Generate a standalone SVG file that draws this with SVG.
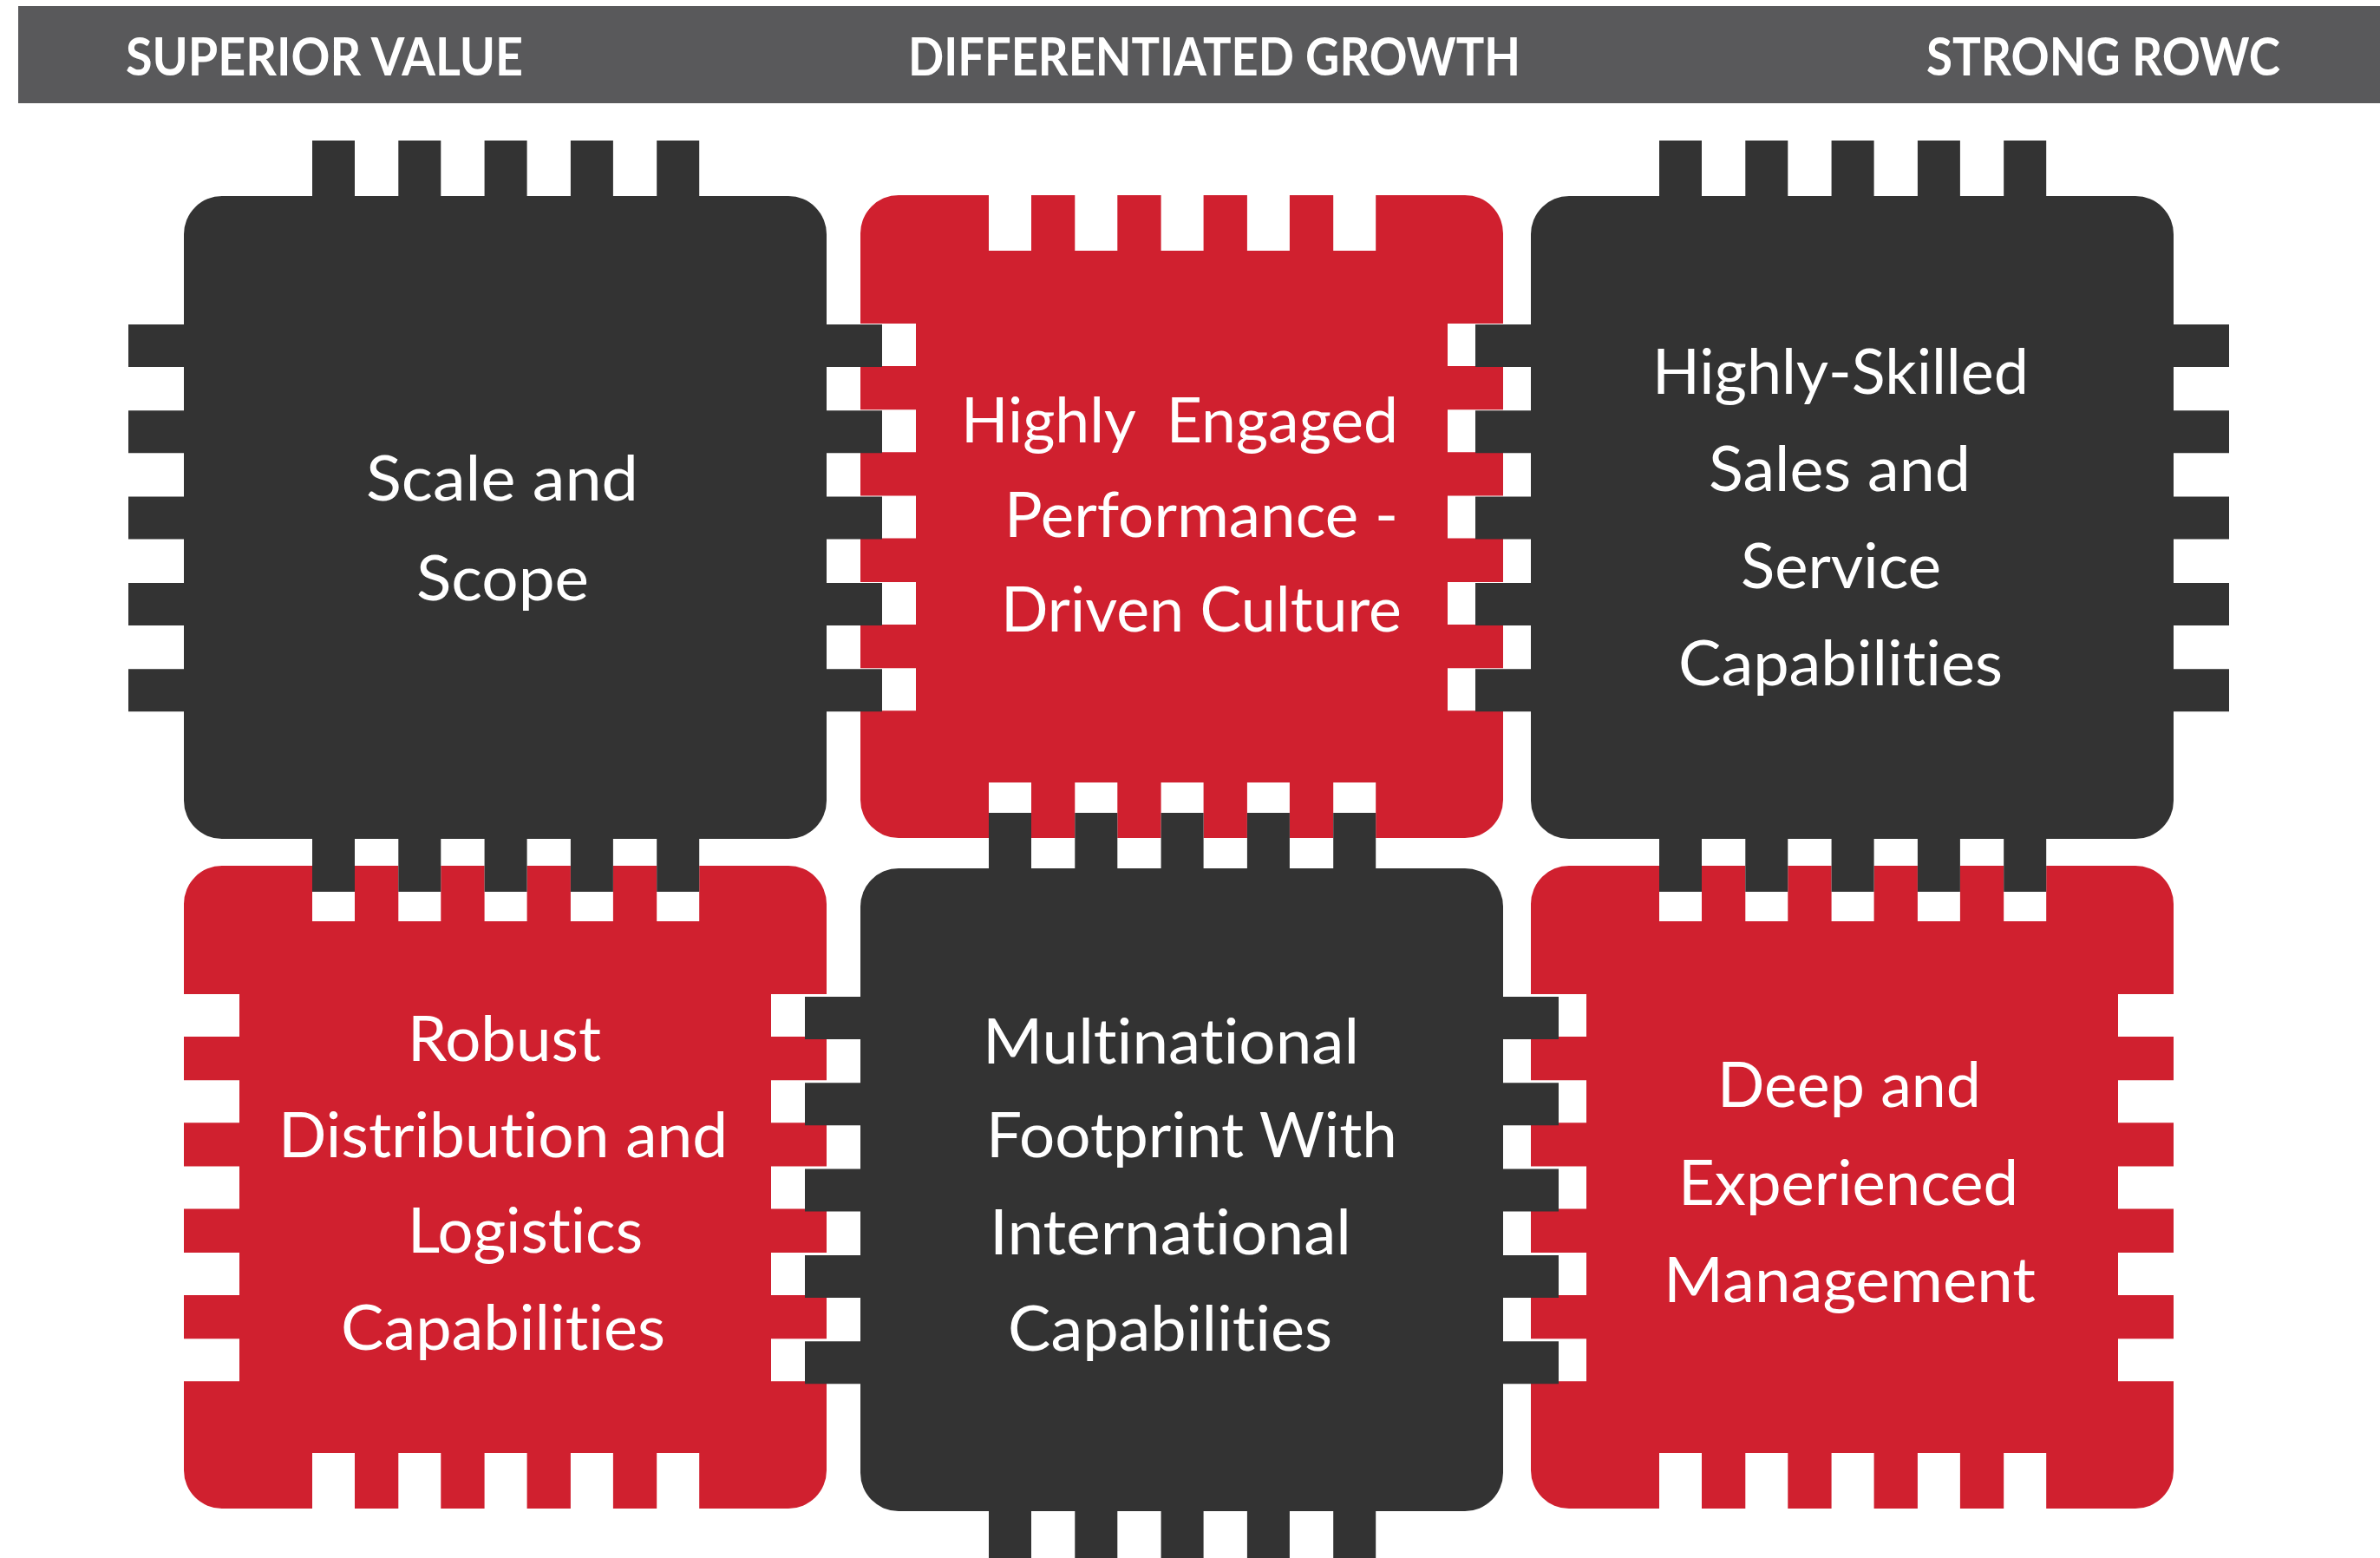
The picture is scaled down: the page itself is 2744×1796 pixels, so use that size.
<svg xmlns="http://www.w3.org/2000/svg" xmlns:xlink="http://www.w3.org/1999/xlink" width="2744" height="1796" viewBox="0 0 2744 1796">
<style>
.hdr{font-family:Lato,"Liberation Sans",sans-serif;font-weight:700;font-size:61px;fill:#ffffff;font-variant-ligatures:none;font-feature-settings:"liga" 0,"dlig" 0}
.lbl{font-family:Lato,"Liberation Sans",sans-serif;font-weight:400;font-size:72px;fill:#ffffff;white-space:pre;font-variant-ligatures:none;font-feature-settings:"liga" 0,"dlig" 0}
.dark{fill:#333333}
.red{fill:#d0202f;fill-rule:evenodd}
</style>
<defs>
<g id="darkchip">
<rect x="0" y="0" width="741" height="741" rx="44" ry="44"/>
<path d="M148,-64h49v66h-49z M247.3,-64h49v66h-49z M346.6,-64h49v66h-49z M445.9,-64h49v66h-49z M545.2,-64h49v66h-49z
M148,739h49v63h-49z M247.3,739h49v63h-49z M346.6,739h49v63h-49z M445.9,739h49v63h-49z M545.2,739h49v63h-49z
M-64,148h66v49h-66z M-64,247.3h66v49h-66z M-64,346.6h66v49h-66z M-64,445.9h66v49h-66z M-64,545.2h66v49h-66z
M739,148h66v49h-66z M739,247.3h66v49h-66z M739,346.6h66v49h-66z M739,445.9h66v49h-66z M739,545.2h66v49h-66z"/>
</g>
<path id="redchip" d="M44,0H697A44,44 0 0 1 741,44V697A44,44 0 0 1 697,741H44A44,44 0 0 1 0,697V44A44,44 0 0 1 44,0Z
M148,0h49v64h-49z M247.3,0h49v64h-49z M346.6,0h49v64h-49z M445.9,0h49v64h-49z M545.2,0h49v64h-49z
M148,677h49v64h-49z M247.3,677h49v64h-49z M346.6,677h49v64h-49z M445.9,677h49v64h-49z M545.2,677h49v64h-49z
M0,148h64v49h-64z M0,247.3h64v49h-64z M0,346.6h64v49h-64z M0,445.9h64v49h-64z M0,545.2h64v49h-64z
M677,148h64v49h-64z M677,247.3h64v49h-64z M677,346.6h64v49h-64z M677,445.9h64v49h-64z M677,545.2h64v49h-64z"/>
</defs>
<rect x="0" y="0" width="2744" height="1796" fill="#ffffff"/>
<g id="header">
<rect x="21" y="7" width="2723" height="112" fill="#59595b"/>
<text class="hdr" x="145" y="87" textLength="458" lengthAdjust="spacingAndGlyphs">SUPERIOR VALUE</text>
<text class="hdr" x="1047" y="87" textLength="706" lengthAdjust="spacingAndGlyphs">DIFFERENTIATED GROWTH</text>
<text class="hdr" x="2221" y="87" textLength="408" lengthAdjust="spacingAndGlyphs">STRONG ROWC</text>
</g>
<g id="node-deep-management">
<use xlink:href="#redchip" class="red" transform="translate(1765,998)"/>
<text class="lbl" x="1980" y="1276" textLength="304" lengthAdjust="spacingAndGlyphs">Deep and</text>
<text class="lbl" x="1935" y="1389" textLength="392" lengthAdjust="spacingAndGlyphs">Experienced</text>
<text class="lbl" x="1918" y="1501" textLength="429" lengthAdjust="spacingAndGlyphs">Management</text>
</g>
<g id="node-robust-distribution">
<use xlink:href="#redchip" class="red" transform="translate(212,998)"/>
<text class="lbl" x="470" y="1223" textLength="223" lengthAdjust="spacingAndGlyphs">Robust</text>
<text class="lbl" x="321" y="1334" textLength="518" lengthAdjust="spacingAndGlyphs">Distribution and</text>
<text class="lbl" x="470" y="1444" textLength="271" lengthAdjust="spacingAndGlyphs">Logistics</text>
<text class="lbl" x="393" y="1556" textLength="374" lengthAdjust="spacingAndGlyphs">Capabilities</text>
</g>
<g id="node-engaged-culture">
<use xlink:href="#redchip" class="red" transform="translate(992,225)"/>
<text class="lbl" x="1108" y="510" textLength="504" lengthAdjust="spacingAndGlyphs">Highly  Engaged</text>
<text class="lbl" x="1158" y="619" textLength="454" lengthAdjust="spacingAndGlyphs">Performance -</text>
<text class="lbl" x="1154" y="728" textLength="462" lengthAdjust="spacingAndGlyphs">Driven Culture</text>
</g>
<g id="node-scale-scope">
<use xlink:href="#darkchip" class="dark" transform="translate(212,226)"/>
<text class="lbl" x="422" y="577" textLength="314" lengthAdjust="spacingAndGlyphs">Scale and</text>
<text class="lbl" x="480" y="692" textLength="199" lengthAdjust="spacingAndGlyphs">Scope</text>
</g>
<g id="node-sales-service">
<use xlink:href="#darkchip" class="dark" transform="translate(1765,226)"/>
<text class="lbl" x="1905" y="454" textLength="434" lengthAdjust="spacingAndGlyphs">Highly-Skilled</text>
<text class="lbl" x="1970" y="566" textLength="302" lengthAdjust="spacingAndGlyphs">Sales and</text>
<text class="lbl" x="2007" y="678" textLength="231" lengthAdjust="spacingAndGlyphs">Service</text>
<text class="lbl" x="1935" y="790" textLength="374" lengthAdjust="spacingAndGlyphs">Capabilities</text>
</g>
<g id="node-multinational">
<use xlink:href="#darkchip" class="dark" transform="translate(992,1001)"/>
<text class="lbl" x="1133" y="1226" textLength="434" lengthAdjust="spacingAndGlyphs">Multinational</text>
<text class="lbl" x="1137" y="1334" textLength="474" lengthAdjust="spacingAndGlyphs">Footprint With</text>
<text class="lbl" x="1141" y="1446" textLength="417" lengthAdjust="spacingAndGlyphs">International</text>
<text class="lbl" x="1162" y="1557" textLength="374" lengthAdjust="spacingAndGlyphs">Capabilities</text>
</g>
<g id="connectors"/>
</svg>
